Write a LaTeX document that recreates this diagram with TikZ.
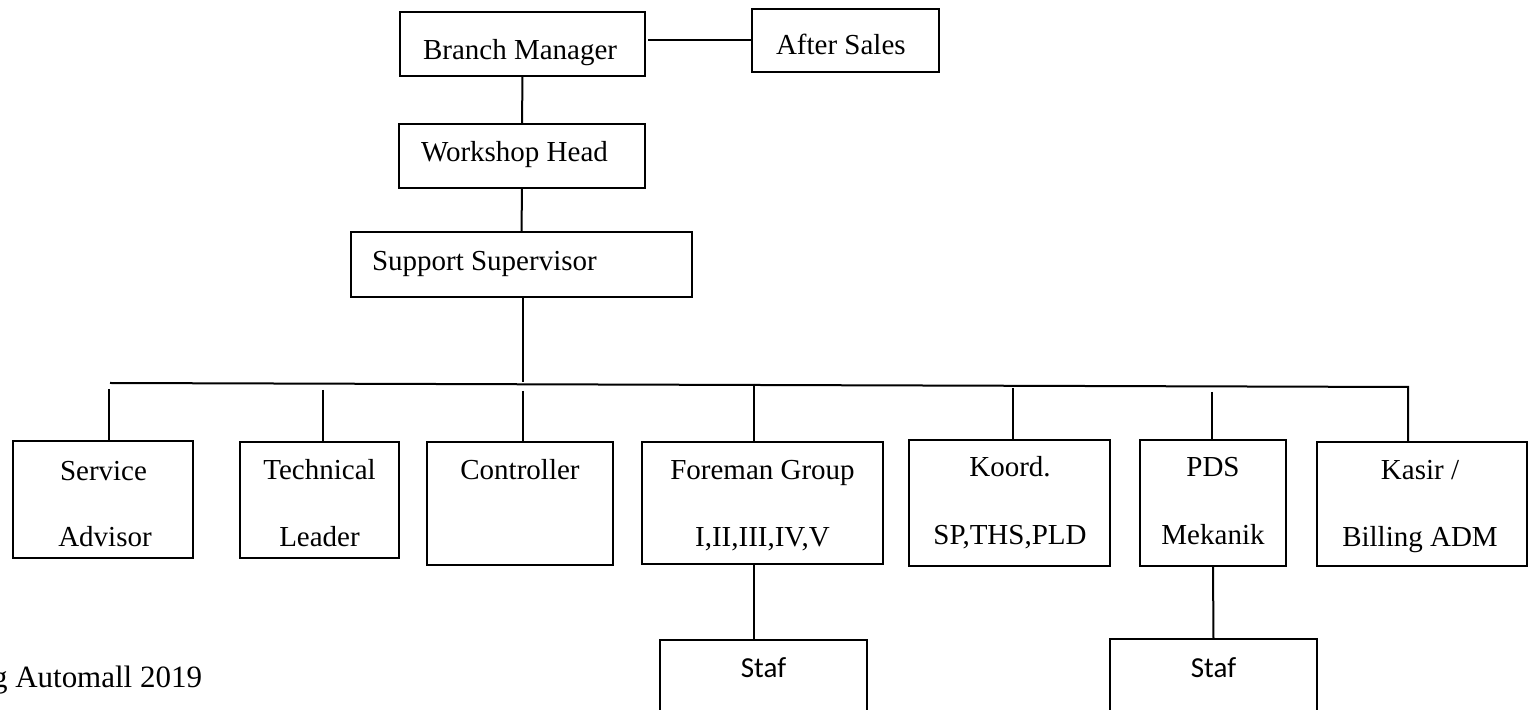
\documentclass[tikz,border=0pt]{standalone}
\usepackage{fontspec}
\setmainfont{Liberation Serif}
\newfontfamily\stafont{Carlito}
\begin{document}
\begin{tikzpicture}[x=0.5pt,y=-0.5pt,
  box/.style={draw,line width=1pt,rectangle,inner sep=0pt,outer sep=0pt},
  lbl/.style={inner sep=0pt,outer sep=0pt,font=\fontsize{14.5}{17}\selectfont},
  capt/.style={inner sep=0pt,outer sep=0pt,font=\fontsize{15.5}{18}\selectfont},
  staftxt/.style={inner sep=0pt,outer sep=0pt,font=\stafont\fontsize{14.5}{17}\selectfont},
  conn/.style={line width=1pt}]
\useasboundingbox (0,0) rectangle (1532,710);
% boxes
\node[box,minimum width=122.5pt,minimum height=32pt] (bm) at (522.5,44) {};
\node[box,minimum width=93.5pt,minimum height=31.5pt] (as) at (845.5,40.5) {};
\node[box,minimum width=123pt,minimum height=32pt] (wh) at (522,156) {};
\node[box,minimum width=170.5pt,minimum height=32.5pt] (ss) at (521.5,264.5) {};
\node[box,minimum width=90pt,minimum height=58.5pt] (sa) at (103,499.5) {};
\node[box,minimum width=79.5pt,minimum height=58pt] (tl) at (319.5,500) {};
\node[box,minimum width=93pt,minimum height=61.5pt] (ctl) at (520,503.5) {};
\node[box,minimum width=120.5pt,minimum height=61pt] (fg) at (762.5,503) {};
\node[box,minimum width=100.5pt,minimum height=63pt] (ko) at (1009.5,503) {};
\node[box,minimum width=73pt,minimum height=63pt] (pds) at (1213,503) {};
\node[box,minimum width=105pt,minimum height=62pt] (ka) at (1422,504) {};
\node[box,minimum width=103.5pt,minimum height=50pt] (st1) at (763.5,690) {};
\node[box,minimum width=103.5pt,minimum height=50pt] (st2) at (1213.5,689.5) {};
% texts
\node[lbl,anchor=base west] (bmt) at (423,60) {Branch Manager};
\node[lbl,anchor=base west] (ast) at (776,55) {After Sales};
\node[lbl,anchor=base west] (wht) at (421,162) {Workshop Head};
\node[lbl,anchor=base west] (sst) at (372,271) {Support Supervisor};
\node[lbl,anchor=base] (sa1) at (103.5,481) {Service};
\node[lbl,anchor=base] (sa2) at (105,547) {Advisor};
\node[lbl,anchor=base] (tl1) at (319.5,480) {Technical};
\node[lbl,anchor=base] (tl2) at (319.5,547) {Leader};
\node[lbl,anchor=base] (ct1) at (520,480) {Controller};
\node[lbl,anchor=base] (fg1) at (762.5,480) {Foreman Group};
\node[lbl,anchor=base] (fg2) at (762.5,547) {I,II,III,IV,V};
\node[lbl,anchor=base] (ko1) at (1010,477) {Koord.};
\node[lbl,anchor=base] (ko2) at (1010,545) {SP,THS,PLD};
\node[lbl,anchor=base] (pd1) at (1213,477) {PDS};
\node[lbl,anchor=base] (pd2) at (1213,545) {Mekanik};
\node[lbl,anchor=base] (ka1) at (1420,480) {Kasir /};
\node[lbl,anchor=base] (ka2) at (1420,547) {Billing ADM};
\node[staftxt,anchor=base] (s1t) at (763.5,678) {Staf};
\node[staftxt,anchor=base] (s2t) at (1213.5,678) {Staf};
\node[capt,anchor=base west] (cap) at (-8,688) {g Automall 2019};
% coordinates on the bus
\coordinate (busL) at (110,383);
\coordinate (bj) at (523,382);
\coordinate (busR) at (1408,387);
\coordinate (d1) at (109,389);
\coordinate (d2) at (323,390);
\coordinate (d3) at (523,391);
\coordinate (d4) at (754,384);
\coordinate (d5) at (1013,388);
\coordinate (d6) at (1212,392);
% connectors
\draw[conn] ([xshift=1.5pt]as.west -| bm.east) -- (as.west);
\draw[conn] (bm.south) -- (wh.north);
\draw[conn] (wh.south) -- (ss.north);
\draw[conn] (ss.south -| bj) -- (bj);
\draw[conn] (busL) -- (busR) -- (busR |- ka.north);
\draw[conn] (d1) -- (d1 |- sa.north);
\draw[conn] (d2) -- (d2 |- tl.north);
\draw[conn] (d3) -- (d3 |- ctl.north);
\draw[conn] (d4) -- (d4 |- fg.north);
\draw[conn] (d5) -- (d5 |- ko.north);
\draw[conn] (d6) -- (d6 |- pds.north);
\draw[conn] (fg.south -| d4) -- (st1.north -| d4);
\draw[conn] (pds.south) -- (st2.north);
\end{tikzpicture}
\end{document}
